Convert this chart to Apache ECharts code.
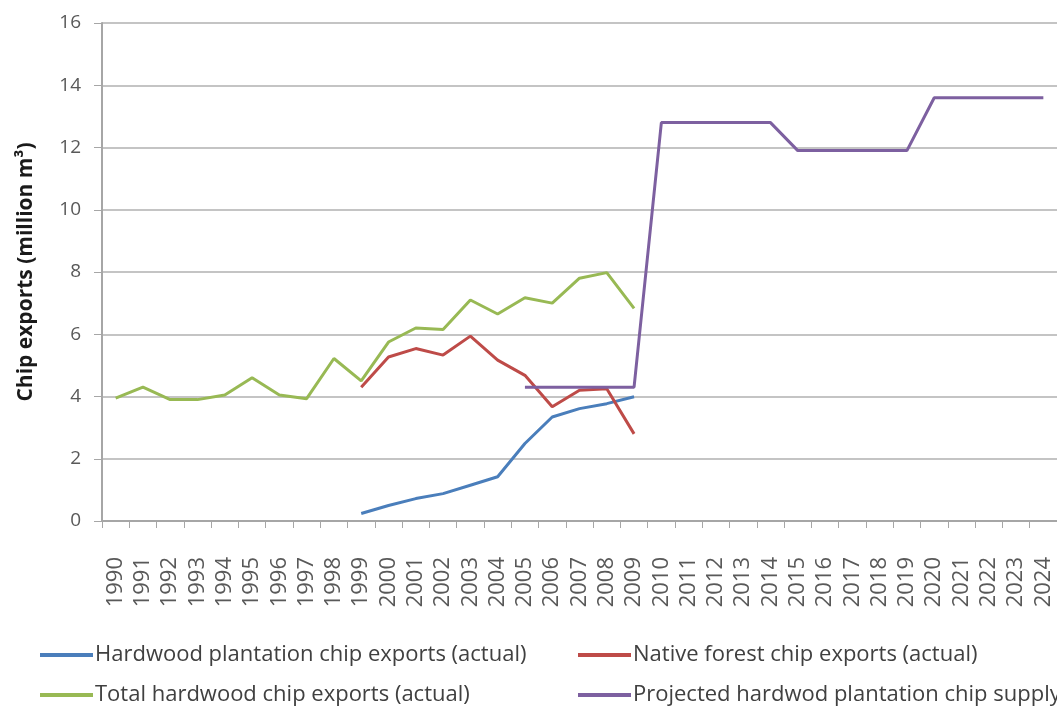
<!DOCTYPE html>
<html>
<head>
<meta charset="utf-8">
<script src="https://cdn.jsdelivr.net/npm/echarts@6/dist/echarts.min.js"></script>
<style>
  html, body { margin: 0; padding: 0; background: #fff; }
  #chart { width: 1057px; height: 706px; }
</style>
</head>
<body>
<div id="chart"></div>
<script>
// years 1990-2024
var years = [];
for (var y = 1990; y <= 2024; y++) years.push(String(y));

var yTicks = [0, 2, 4, 6, 8, 10, 12, 14, 16];

// values (million m3), null = no data
var plantationActual = [null, null, null, null, null, null, null, null, null,
    0.24, 0.5, 0.72, 0.88, 1.15, 1.42, 2.49, 3.34, 3.61, 3.77, 3.99];
var nativeActual = [null, null, null, null, null, null, null, null, null,
    4.3, 5.27, 5.54, 5.33, 5.94, 5.17, 4.68, 3.67, 4.2, 4.25, 2.8];
var totalActual = [3.95, 4.3, 3.9, 3.9, 4.05, 4.6, 4.05, 3.93, 5.22,
    4.5, 5.75, 6.2, 6.15, 7.1, 6.65, 7.17, 7.0, 7.8, 7.98, 6.83];
var projectedSupply = [null, null, null, null, null, null, null, null, null,
    null, null, null, null, null, null,
    4.3, 4.3, 4.3, 4.3, 4.3,
    12.8, 12.8, 12.8, 12.8, 12.8,
    11.9, 11.9, 11.9, 11.9, 11.9,
    13.6, 13.6, 13.6, 13.6, 13.6];

var names = ['Hardwood plantation chip exports (actual)', 'Native forest chip exports (actual)',
    'Total hardwood chip exports (actual)', 'Projected hardwod plantation chip supply'];
var colors = ['#4a7ebb', '#be4b48', '#98b954', '#7d60a0'];

var font = 'Open Sans';
var chart = echarts.init(document.getElementById('chart'));

function lineSeries(i, data) {
    return {
        name: names[i],
        type: 'line',
        data: data,
        symbol: 'none',
        connectNulls: false,
        lineStyle: { color: colors[i], width: 3 },
        itemStyle: { color: colors[i] }
    };
}

// one legend per item so they sit in the 2x2 layout
var legendPos = [[40, 644], [578, 644], [40, 684], [578, 684]];
var legends = names.map(function (n, i) {
    return {
        data: [n],
        left: legendPos[i][0],
        top: legendPos[i][1],
        padding: 0,
        icon: 'rect',
        itemWidth: 53,
        itemHeight: 4,
        itemGap: 0,
        textStyle: { color: '#404040', fontSize: 22, fontFamily: font, padding: [0, 0, 0, -3] }
    };
});

var option = {
    backgroundColor: '#fff',
    animation: false,
    legend: legends,
    grid: { left: 102, right: 0, top: 23, bottom: 185, containLabel: false },
    xAxis: {
        type: 'category',
        data: years,
        boundaryGap: true,
        axisLine: { show: true, lineStyle: { color: '#a6a6a6', width: 2 } },
        axisTick: { show: true, length: 7, lineStyle: { color: '#a6a6a6', width: 1 } },
        axisLabel: {
            rotate: 90, margin: 21, align: 'right', verticalAlign: 'middle',
            padding: [0, 15, 0, 0],
            color: '#595959', fontSize: 22, fontFamily: font, interval: 0
        },
        splitLine: { show: false }
    },
    yAxis: {
        type: 'value',
        min: yTicks[0],
        max: yTicks[yTicks.length - 1],
        interval: yTicks[1] - yTicks[0],
        name: 'Chip exports (million m\u00B3)',
        nameLocation: 'middle',
        nameGap: 65,
        nameTextStyle: { color: '#1a1a1a', fontSize: 21, fontWeight: 'bold', fontFamily: font },
        axisLine: { show: true, lineStyle: { color: '#a6a6a6', width: 2 } },
        axisTick: { show: true, length: 8, lineStyle: { color: '#a6a6a6' } },
        axisLabel: { color: '#595959', fontSize: 19, margin: 21, fontFamily: font },
        splitLine: { show: true, lineStyle: { color: '#b0b0b0', width: 1.5 } }
    },
    series: [
        lineSeries(0, plantationActual),
        lineSeries(1, nativeActual),
        lineSeries(2, totalActual),
        lineSeries(3, projectedSupply)
    ]
};

chart.setOption(option);
window.addEventListener('resize', function () { chart.resize(); });
</script>
</body>
</html>
